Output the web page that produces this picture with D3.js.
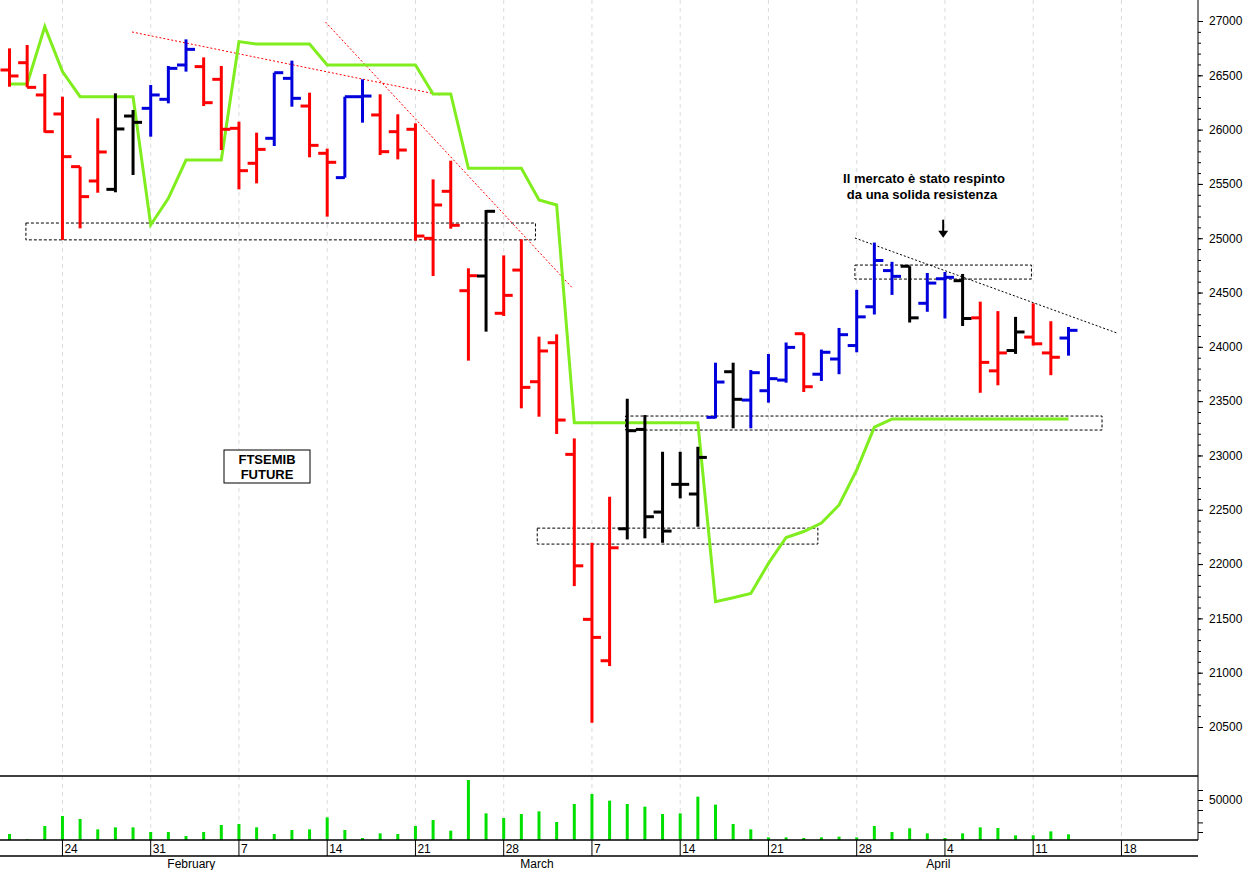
<!DOCTYPE html>
<html>
<head>
<meta charset="utf-8">
<script src="https://cdnjs.cloudflare.com/ajax/libs/d3/7.8.5/d3.min.js"></script>
<style>
  body { margin: 0; background: #fff; }
  svg text { font-family: "Liberation Sans", Arial, sans-serif; }
</style>
</head>
<body>
<div id="chart"></div>
<script>
// OHLC per trading day, index 0 = 19 Jan
const highs  = [26748,26779,26512,26303,25659,26104,26334,26181,26411,26586,26831,26665,26586,26073,25972,26524,26635,26340,25825,26303,26463,26325,26141,26058,25542,25714,24723,25260,24842,24990,24094,24115,23157,22196,22620,23522,23372,23034,23034,23080,23854,23854,23787,23934,24040,24121,23975,24174,24525,24960,24783,24742,24680,24689,24671,24416,24329,24276,24401,24236,24183];
const lows   = [26395,26389,25972,24984,25091,25419,25423,25582,25935,26242,26534,26217,25812,25450,25505,25849,26211,25745,25199,25558,26064,25766,25726,24978,24652,25088,23873,24140,24284,23434,23357,23198,21797,20539,21061,22227,22237,22196,22605,22344,23342,23250,23250,23486,23670,23584,23686,23748,23950,24298,24478,24224,24323,24261,24192,23577,23646,23935,24012,23739,23919];
const opens  = [26549,26616,26319,26144,25659,25527,25450,26125,26196,26279,26595,26580,26463,26012,25690,25920,26472,26217,25782,25558,26303,26135,25981,26003,24999,25432,24517,24652,24309,24707,23679,24038,23010,21491,21110,22325,23240,22479,22734,22645,23351,23771,23510,23596,23694,24121,23748,23888,24012,24369,24702,24742,24401,24627,24609,24267,23779,23966,24090,23944,24081];
const closes = [26494,26389,25981,25751,25383,25794,26006,26067,26319,26564,26739,26248,26003,25622,25818,26524,26288,25855,25699,26303,26309,25797,25812,25020,25306,25119,24655,25248,24474,23627,23962,23326,21984,21325,22150,23228,22436,22304,22734,22982,23676,23517,23762,23707,23995,23633,23950,24112,24276,24795,24649,24267,24587,24640,24261,23857,23944,24137,24028,23904,24152];
const barColors = ["r","r","r","r","r","r","k","k","b","b","b","r","r","r","r","b","b","r","r","b","b","r","r","r","r","r","r","k","r","r","r","r","r","r","r","k","k","k","k","k","b","k","b","b","b","r","b","b","b","b","b","k","b","b","k","r","r","k","r","r","b"];
const stopLine = [26420,26420,26948,26534,26303,26303,26303,26303,25122,25367,25720,25720,25720,26810,26788,26788,26788,26788,26595,26595,26595,26595,26595,26595,26328,26328,25644,25644,25644,25644,25352,25306,23302,23302,23302,23302,23302,23302,23302,23302,21653,21690,21730,22006,22245,22300,22378,22544,22866,23261,23335,23335,23335,23335,23335,23335,23335,23335,23335,23335,23335];
const volumes = [7500,800,17500,30000,26250,13300,15800,15800,10000,10000,5000,10000,18750,20000,15800,7500,12500,13300,28300,12500,2500,8300,7500,17500,25000,11700,75000,33300,27500,32500,35800,22500,45000,57500,49200,45000,41700,32500,33300,54200,44200,20000,13300,3300,3300,2500,3300,4200,3300,17500,10000,14600,8300,2500,8300,15800,15000,5800,5800,10800,7100];

// axis labels
const priceTicks = [20500,21000,21500,22000,22500,23000,23500,24000,24500,25000,25500,26000,26500,27000];
const dayTicks = [{i:3,t:"24"},{i:8,t:"31"},{i:13,t:"7"},{i:18,t:"14"},{i:23,t:"21"},{i:28,t:"28"},{i:33,t:"7"},{i:38,t:"14"},{i:43,t:"21"},{i:48,t:"28"},{i:53,t:"4"},{i:58,t:"11"},{i:63,t:"18"}];
const months = [{i:9,t:"February"},{i:29,t:"March"},{i:52,t:"April"}];

// annotations (index, price)
const boxes = [[0.93,29.8,25140,24985],[29.9,45.8,22331,22184],[34.9,61.9,23363,23234],[47.9,57.9,24753,24624]];
const trendLines = [
  {a:[6.94,26899], b:[24.4,26319], c:"#f00"},
  {a:[17.9,26991], b:[31.9,24541], c:"#f00"},
  {a:[47.9,25002], b:[62.75,24127], c:"#000"}
];

const W = 1247, H = 870, plotR = 1198, mainBot = 776, volBot = 840;
const colorMap = {r:"#ff0000", b:"#0000dd", k:"#000000"};

const svg = d3.select("#chart").append("svg").attr("width", W).attr("height", H);

const x = d3.scaleLinear().domain([0, 1]).range([9.5, 27.15]);
const y = d3.scaleLinear().domain([20500, 27000]).range([727, 21]);
const yv = d3.scaleLinear().domain([0, 50000]).range([volBot, 800]);

// vertical grid
svg.append("g").selectAll("line").data(dayTicks).join("line")
  .attr("x1", d => x(d.i)).attr("x2", d => x(d.i))
  .attr("y1", 0).attr("y2", volBot)
  .attr("stroke", "#ccc").attr("stroke-dasharray", "4,4").attr("stroke-width", 0.7);

// boxes
svg.append("g").selectAll("rect").data(boxes).join("rect")
  .attr("x", d => x(d[0])).attr("width", d => x(d[1]) - x(d[0]))
  .attr("y", d => y(d[2])).attr("height", d => y(d[3]) - y(d[2]))
  .attr("fill", "none").attr("stroke", "#000").attr("stroke-dasharray", "3,2").attr("stroke-width", 1);

svg.append("g").selectAll("line").data(trendLines).join("line")
  .attr("x1", d => x(d.a[0])).attr("y1", d => y(d.a[1]))
  .attr("x2", d => x(d.b[0])).attr("y2", d => y(d.b[1]))
  .attr("stroke", d => d.c).attr("stroke-dasharray", "2,2").attr("stroke-width", 1);

// green line
svg.append("path").datum(stopLine)
  .attr("d", d3.line().x((d, i) => x(i)).y(d => y(d)))
  .attr("fill", "none").attr("stroke", "#80ee1e").attr("stroke-width", 3);

// OHLC bars
const bars = svg.append("g").selectAll("g").data(highs.map((h, i) => ({i, h, l: lows[i], o: opens[i], c: closes[i], col: colorMap[barColors[i]]})))
  .join("g").attr("stroke", d => d.col).attr("stroke-width", 3);
bars.append("line").attr("x1", d => x(d.i)).attr("x2", d => x(d.i)).attr("y1", d => y(d.h)).attr("y2", d => y(d.l));
bars.append("line").attr("x1", d => x(d.i) - 9).attr("x2", d => x(d.i)).attr("y1", d => y(d.o)).attr("y2", d => y(d.o));
bars.append("line").attr("x1", d => x(d.i)).attr("x2", d => x(d.i) + 9).attr("y1", d => y(d.c)).attr("y2", d => y(d.c));

// volume
svg.append("g").selectAll("line").data(volumes).join("line")
  .attr("x1", (d, i) => x(i)).attr("x2", (d, i) => x(i))
  .attr("y1", volBot).attr("y2", d => yv(d))
  .attr("stroke", "#00e000").attr("stroke-width", 3);

// frame lines
svg.append("line").attr("x1", 0).attr("x2", plotR).attr("y1", mainBot).attr("y2", mainBot).attr("stroke", "#000").attr("stroke-width", 1.5);
svg.append("line").attr("x1", 0).attr("x2", plotR).attr("y1", volBot).attr("y2", volBot).attr("stroke", "#000").attr("stroke-width", 1.5);
svg.append("line").attr("x1", 0).attr("x2", plotR).attr("y1", 856).attr("y2", 856).attr("stroke", "#000").attr("stroke-width", 1.5);
svg.append("line").attr("x1", plotR).attr("x2", plotR).attr("y1", 0).attr("y2", volBot).attr("stroke", "#000");

// right price axis
svg.append("g").attr("transform", `translate(${plotR},0)`)
  .call(d3.axisRight(y).tickValues(priceTicks).tickSize(5).tickFormat(d3.format("d")))
  .call(g => g.select(".domain").remove())
  .call(g => g.selectAll("text").attr("font-size", 12).attr("fill", "#000").attr("x", 11));
svg.append("g").attr("transform", `translate(${plotR},0)`)
  .call(d3.axisRight(y).ticks(65).tickSize(3).tickFormat(""))
  .call(g => g.select(".domain").remove());

// volume axis
svg.append("g").attr("transform", `translate(${plotR},0)`)
  .call(d3.axisRight(yv).tickValues([10000, 22000, 37500, 50000, 62500]).tickSize(5).tickFormat(d => d === 50000 ? "50000" : ""))
  .call(g => g.select(".domain").remove())
  .call(g => g.selectAll("text").attr("font-size", 12).attr("x", 11));

// date row
const dr = svg.append("g");
dr.selectAll("line").data(dayTicks).join("line")
  .attr("x1", d => x(d.i)).attr("x2", d => x(d.i)).attr("y1", volBot).attr("y2", 856).attr("stroke", "#000");
dr.selectAll("text").data(dayTicks).join("text")
  .attr("x", d => x(d.i) + 2).attr("y", 853).attr("font-size", 12).text(d => d.t);
const mr = svg.append("g");
mr.selectAll("line").data(months).join("line")
  .attr("x1", d => x(d.i) - 3).attr("x2", d => x(d.i) - 3).attr("y1", volBot + 66).attr("y2", H).attr("stroke", "#000");
mr.selectAll("text").data(months).join("text")
  .attr("x", d => x(d.i) - 1).attr("y", 868).attr("font-size", 12).text(d => d.t);

// annotation text
const note = svg.append("g").attr("font-family", "DejaVu Sans").attr("font-weight", "bold").attr("font-size", 13).attr("text-anchor", "middle");
note.append("text").attr("x", 924).attr("y", 183).text("Il mercato è stato respinto");
note.append("text").attr("x", 922).attr("y", 199).text("da una solida resistenza");
svg.append("line").attr("x1", x(52.9)).attr("x2", x(52.9)).attr("y1", y(24950) - 24).attr("y2", y(24950) - 12).attr("stroke", "#000").attr("stroke-width", 2);
svg.append("path").attr("d", `M${x(52.9) - 5},${y(24950) - 13}L${x(52.9) + 5},${y(24950) - 13}L${x(52.9)},${y(24950) - 6}Z`).attr("fill", "#000");

svg.append("rect").attr("x", 224).attr("y", 450).attr("width", 86).attr("height", 33).attr("fill", "#fff").attr("stroke", "#000");
const lab = svg.append("g").attr("font-family", "DejaVu Sans").attr("font-weight", "bold").attr("font-size", 13).attr("text-anchor", "middle");
lab.append("text").attr("x", 267).attr("y", 464).text("FTSEMIB");
lab.append("text").attr("x", 267).attr("y", 479).text("FUTURE");
</script>
</body>
</html>
